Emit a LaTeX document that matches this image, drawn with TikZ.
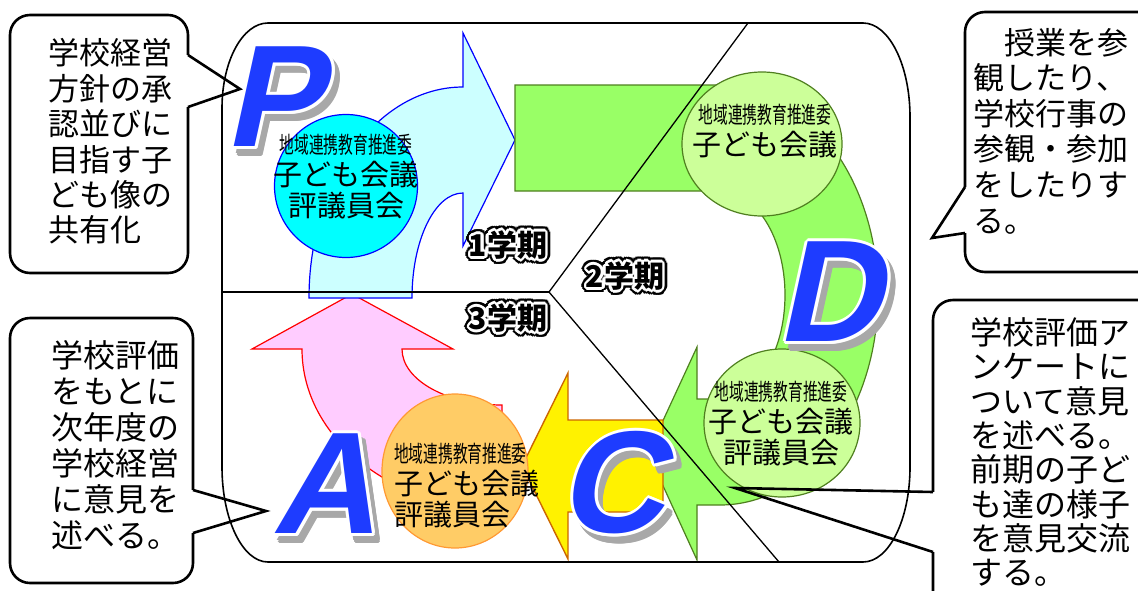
\documentclass[tikz,border=0pt]{standalone}
\usepackage{fontspec}
\usetikzlibrary{shapes.geometric}
\newfontfamily\jp{Noto Sans CJK JP}
\newfontfamily\jpc[FakeStretch=0.64]{Noto Sans CJK JP}
\newfontfamily\letterfont[FakeSlant=0.22]{Liberation Sans}
\definecolor{cyanfill}{HTML}{CCFFFF}
\definecolor{cyancirc}{HTML}{00FFFF}
\definecolor{greenfill}{HTML}{99FF66}
\definecolor{greenline}{HTML}{4F7F1F}
\definecolor{lgreen}{HTML}{CCFF99}
\definecolor{pinkfill}{HTML}{FFCCFF}
\definecolor{orangefill}{HTML}{FFCC66}
\definecolor{orangeline}{HTML}{FF9933}
\definecolor{yellowline}{HTML}{CC6600}
\definecolor{letterblue}{HTML}{1E3CFF}
\definecolor{shadowgray}{HTML}{A8A8A8}
\tikzset{
  frameline/.style={draw=black, line width=1.6pt},
  divline/.style={draw=black, line width=1.3pt},
  cyanarrow/.style={draw=blue, fill=cyanfill, line width=1.2pt},
  pinkarrow/.style={draw=red, fill=pinkfill, line width=1.2pt},
  greenarrow/.style={draw=greenline, fill=greenfill, line width=1.2pt},
  yellowarrow/.style={draw=yellowline, fill=yellow, line width=1.4pt},
  circ/.style={ellipse, inner sep=0pt, line width=1.2pt},
  ccirc/.style={circ, draw=blue, fill=cyancirc},
  dcirc/.style={circ, draw=greenline, fill=lgreen},
  ocirc/.style={circ, draw=orangeline, fill=orangefill},
  circtext/.style={inner sep=0pt, font=\jp\fontsize{29}{31.5}\selectfont},
  calloutbox/.style={draw=black, line width=2.6pt, fill=white, rounded corners=20pt},
  calloutptr/.style={draw=black, line width=2.6pt, line join=miter},
  callouttext/.style={inner sep=0pt, align=left},
  letterfnt/.style={inner sep=0pt, font=\letterfont\bfseries\fontsize{145}{150}\selectfont},
  period/.style={inner sep=0pt, font=\jp\bfseries\fontsize{30}{32}\selectfont}
}
% #1 name, #2 position, #3 letter
\newcommand\pdcaletter[3]{%
  \path (#2) ++(5,7) coordinate (#1sh);
  \foreach \a [count=\i] in {0,30,...,330}{\path (#1sh) ++(\a:3) node[letterfnt, text=shadowgray] (#1s\i) {#3};}
  \node[letterfnt, text=shadowgray] (#1s) at (#1sh) {#3};
  \foreach \a [count=\i] in {0,30,...,330}{\path (#2) ++(\a:3) node[letterfnt, text=white] (#1w\i) {#3};}
  \node[letterfnt, text=letterblue] (#1) at (#2) {#3};
}
% #1 name, #2 position, #3 text
\newcommand\periodlabel[3]{%
  \foreach \a [count=\i] in {0,22.5,...,337.5}{\path (#2) ++(\a:5) node[period, text=black] (#1b\i) {#3};}
  \foreach \a [count=\i] in {0,30,...,330}{\path (#2) ++(\a:2.6) node[period, text=white] (#1w\i) {#3};}
  \node[period, text=black] (#1) at (#2) {#3};
}
\begin{document}
\begin{tikzpicture}[x=1pt,y=-1pt]
\useasboundingbox (0,0) rectangle (1138,590);

% ---- arrows ----
\draw[pinkarrow] (302,349) -- (252,349) -- (352,294) -- (453,349) -- (402,349)
  arc[start angle=180,end angle=90,x radius=100,y radius=56] -- (502,509)
  arc[start angle=90,end angle=180,x radius=200,y radius=160] -- cycle;
\draw[cyanarrow] (309,298) arc[start angle=180,end angle=270,x radius=154,y radius=211]
  -- (463,33) -- (515,140) -- (463,246) -- (463,193)
  arc[start angle=270,end angle=180,x radius=51,y radius=105] -- cycle;
\draw[greenarrow] (515,85) -- (720,85)
  arc[start angle=-90,end angle=90,x radius=158,y radius=210]
  -- (697,505) -- (697,560) -- (648,453) -- (697,347) -- (697,399) -- (720,399)
  arc[start angle=90,end angle=-90,x radius=65,y radius=104] -- (515,191) -- cycle;
\draw[yellowarrow] (663,420) -- (568,420) -- (568,373) -- (522,466) -- (568,559) -- (568,512) -- (663,512) -- cycle;

% ---- circles ----
\node[ccirc, minimum width=143pt, minimum height=143pt] (c1) at (346,186) {};
\node[dcirc, minimum width=160pt, minimum height=144pt] (d1) at (762,144) {};
\node[dcirc, minimum width=156pt, minimum height=148pt] (d2) at (782,423) {};
\node[ocirc, minimum width=146pt, minimum height=154pt] (o1) at (455,471) {};

\node[circtext, align=center] (c1t) at (346,177) {{\jpc\fontsize{23}{25}\selectfont 地域連携教育推進委}\\子ども会議\\評議員会};
\node[circtext, align=center] (d1t) at (765,131) {{\jpc\fontsize{23}{25}\selectfont 地域連携教育推進委}\\子ども会議};
\node[circtext, align=center] (d2t) at (781,424) {{\jpc\fontsize{23}{25}\selectfont 地域連携教育推進委}\\子ども会議\\評議員会};
\node[circtext, align=left, anchor=west] (o1t) at (394,486) {{\jpc\fontsize{23}{25}\selectfont 地域連携教育推進委}\\子ども会議\\評議員会};

% ---- frame and dividers ----
\draw[frameline] (268,23) -- (863,23) arc[start angle=-90,end angle=0,x radius=47,y radius=94]
  -- (910,467) arc[start angle=0,end angle=90,x radius=47,y radius=95]
  -- (268,562) arc[start angle=90,end angle=180,x radius=46,y radius=95]
  -- (222,108) arc[start angle=180,end angle=270,x radius=46,y radius=85] -- cycle;
\coordinate (J) at (549,292);
\coordinate (hl) at (222,292);
\coordinate (tr) at (748,23);
\coordinate (br) at (779,562);
\draw[divline, line width=2pt] (hl) -- (J);
\draw[divline] (J) -- (tr);
\draw[divline] (J) -- (br);

% ---- PDCA letters ----
\coordinate (Ppos) at (273,97);
\coordinate (Dpos) at (829,292);
\coordinate (Cpos) at (611,483);
\coordinate (Apos) at (324,484);
\pdcaletter{P}{Ppos}{P}
\pdcaletter{D}{Dpos}{D}
\pdcaletter{C}{Cpos}{C}
\pdcaletter{A}{Apos}{A}

% ---- period labels ----
\coordinate (k1pos) at (508,245);
\coordinate (k2pos) at (625,276);
\coordinate (k3pos) at (508,318);
\periodlabel{k1}{k1pos}{1学期}
\periodlabel{k2}{k2pos}{2学期}
\periodlabel{k3}{k3pos}{3学期}

% ---- callouts ----
% top left
\node[calloutbox, minimum width=178pt, minimum height=258pt] (cbTL) at (99,144) {};
\coordinate (tlA) at (188,55);
\coordinate (tlTip) at (240,89);
\coordinate (tlB) at (188,107);
\fill[white] (186,55) rectangle (191,107);
\draw[calloutptr] (tlA) -- (tlTip) -- (tlB);
\node[callouttext, font=\jp\fontsize{31}{35.4}\selectfont] (tTL) at (110,141.5) {学校経営\\方針の承\\認並びに\\目指す子\\ども像の\\共有化};

% bottom left
\node[calloutbox, minimum width=183pt, minimum height=265pt] (cbBL) at (101.5,450.5) {};
\coordinate (blA) at (193,490);
\coordinate (blTip) at (266,511);
\coordinate (blB) at (193,533);
\fill[white] (191,490) rectangle (196,533);
\draw[calloutptr] (blA) -- (blTip) -- (blB);
\node[callouttext, font=\jp\fontsize{32}{36}\selectfont] (tBL) at (115,445) {学校評価\\をもとに\\次年度の\\学校経営\\に意見を\\述べる。};

% top right
\node[calloutbox, minimum width=225pt, minimum height=260pt] (cbTR) at (1077.5,142) {};
\coordinate (trA) at (965,187);
\coordinate (trTip) at (932,238);
\coordinate (trB) at (965,233);
\fill[white] (962,187) rectangle (968,233);
\draw[calloutptr] (trA) -- (trTip) -- (trB);
\node[callouttext, anchor=west, font=\jp\fontsize{31}{35.6}\selectfont] (tTR) at (973,131) {　授業を参\\観したり、\\学校行事の\\参観・参加\\をしたりす\\る。};

% bottom right
\node[calloutbox, minimum width=257pt, minimum height=340pt] (cbBR) at (1061.5,470) {};
\coordinate (brA) at (933,492);
\coordinate (brTip) at (735,488);
\coordinate (brB) at (933,552);
\fill[white] (930,492) rectangle (936,552);
\draw[calloutptr] (brA) -- (brTip) -- (brB);
\node[callouttext, anchor=west, font=\jp\fontsize{32}{34.3}\selectfont] (tBR) at (970,452) {学校評価ア\\ンケートに\\ついて意見\\を述べる。\\前期の子ど\\も達の様子\\を意見交流\\する。};
\end{tikzpicture}
\end{document}
